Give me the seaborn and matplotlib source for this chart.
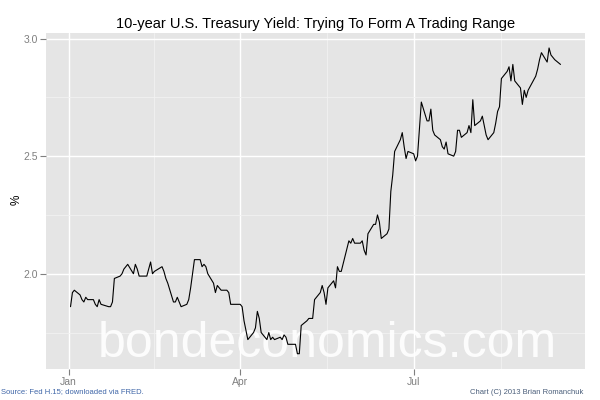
import matplotlib
matplotlib.use("Agg")
import matplotlib.pyplot as plt
import matplotlib.dates as mdates
import numpy as np
import pandas as pd
import seaborn as sns

# 10-year treasury yield, daily (Fed H.15), 2013, one list per month
holidays = ["2013-01-21", "2013-02-18", "2013-03-29", "2013-05-27",
            "2013-07-04", "2013-09-02"]

jan = [1.86, 1.92, 1.93, 1.91, 1.89, 1.88, 1.90, 1.89, 1.89, 1.87, 1.86,
       1.89, 1.87, 1.86, 1.86, 1.88, 1.98, 1.99, 2.00, 2.02, 2.03]
feb = [2.04, 2.00, 2.04, 2.02, 1.99, 1.99, 1.99, 2.02, 2.05, 2.00, 2.01,
       2.03, 2.01, 1.98, 1.96, 1.88, 1.88, 1.90, 1.88]
mar = [1.86, 1.87, 1.89, 1.94, 2.00, 2.06, 2.06, 2.03, 2.04, 2.03, 2.00,
       1.96, 1.92, 1.95, 1.94, 1.93, 1.93, 1.92, 1.87, 1.87]
apr = [1.87, 1.86, 1.80, 1.76, 1.72, 1.75, 1.77, 1.84, 1.81, 1.75, 1.72,
       1.75, 1.72, 1.73, 1.72, 1.73, 1.72, 1.74, 1.73, 1.70, 1.70, 1.70]
may = [1.66, 1.66, 1.78, 1.80, 1.81, 1.81, 1.81, 1.89, 1.92, 1.95, 1.92,
       1.87, 1.94, 1.97, 1.94, 2.03, 2.01, 2.01, 2.14, 2.13, 2.15, 2.13]
jun = [2.13, 2.14, 2.10, 2.08, 2.17, 2.21, 2.21, 2.25, 2.22, 2.15, 2.17,
       2.19, 2.35, 2.42, 2.52, 2.57, 2.60, 2.54, 2.49, 2.52]
jul = [2.51, 2.48, 2.50, 2.73, 2.65, 2.65, 2.70, 2.61, 2.59, 2.57, 2.54,
       2.53, 2.56, 2.51, 2.50, 2.52, 2.61, 2.61, 2.58, 2.60, 2.63, 2.60]
aug = [2.74, 2.63, 2.65, 2.67, 2.63, 2.59, 2.57, 2.60, 2.64, 2.69, 2.71,
       2.83, 2.86, 2.88, 2.82, 2.89, 2.82, 2.79, 2.72, 2.78, 2.75, 2.78]
sep = [2.84, 2.87, 2.91, 2.94, 2.90, 2.96, 2.93, 2.92, 2.91, 2.89]

yields = jan + feb + mar + apr + may + jun + jul + aug + sep
dates = pd.bdate_range("2013-01-02", "2013-09-16", freq="C", holidays=holidays)
df = pd.DataFrame({"date": dates, "yield": yields})

title = "10-year U.S. Treasury Yield: Trying To Form A Trading Range"
source = "Source: Fed H.15; downloaded via FRED."
credit = "Chart (C) 2013 Brian Romanchuk"
watermark = "bondeconomics.com"

sns.set_theme(style="darkgrid", rc={
    "axes.facecolor": "#E5E5E5",
    "grid.color": "white",
    "axes.edgecolor": "#E5E5E5",
})
plt.rcParams["font.family"] = ["Liberation Sans", "DejaVu Sans"]

fig = plt.figure(figsize=(6, 4), dpi=100)
ax = fig.add_axes([0.0767, 0.0775, 0.8983, 0.8408])

sns.lineplot(data=df, x="date", y="yield", color="black", lw=0.8, ax=ax,
             zorder=3)

# ggplot-like 5% expansion
x0, x1 = mdates.date2num(df["date"].min()), mdates.date2num(df["date"].max())
pad = (x1 - x0) * 0.05
ax.set_xlim(x0 - pad, x1 + pad)
y0, y1 = df["yield"].min(), df["yield"].max()
ypad = (y1 - y0) * 0.05
ax.set_ylim(y0 - ypad, y1 + ypad)

major = pd.to_datetime(["2013-01-01", "2013-04-01", "2013-07-01", "2013-10-01"])
minor = major[:-1] + (major[1:] - major[:-1]) / 2
ax.xaxis.set_major_locator(mdates.MonthLocator(bymonth=[1, 4, 7]))
ax.xaxis.set_major_formatter(mdates.DateFormatter("%b"))
ax.xaxis.set_minor_locator(plt.FixedLocator(mdates.date2num(minor)))
ax.set_yticks([2.0, 2.5, 3.0])
ax.set_yticklabels(["2.0", "2.5", "3.0"])
ax.set_yticks([1.75, 2.25, 2.75], minor=True)

ax.grid(which="major", color="white", lw=1.0)
ax.grid(which="minor", color="#F2F2F2", lw=0.6)
ax.tick_params(which="major", length=4, width=0.8, color="#7F7F7F",
               labelcolor="#7F7F7F", labelsize=7.5, pad=2, bottom=True,
               left=True)
ax.tick_params(which="minor", length=0)
for s in ax.spines.values():
    s.set_visible(False)

ax.set_xlabel("")
ax.set_ylabel("")

ax.text(0.521, 0.036, watermark, transform=ax.transAxes, ha="center",
        va="baseline", fontsize=36, color="white", alpha=0.9, zorder=2)

fig.text(0.526, 0.94, title, ha="center", va="center", fontsize=10.5,
         color="black")
fig.text(0.027, 0.5, "%", ha="center", va="center", rotation=90,
         fontsize=8.5, color="black")
fig.text(0.002, 0.02, source, ha="left", va="center", fontsize=5.5,
         color="#3F66A8")
fig.text(0.972, 0.02, credit, ha="right", va="center", fontsize=5.5,
         color="#4A5E7A")

fig.savefig("out.png", dpi=100)
